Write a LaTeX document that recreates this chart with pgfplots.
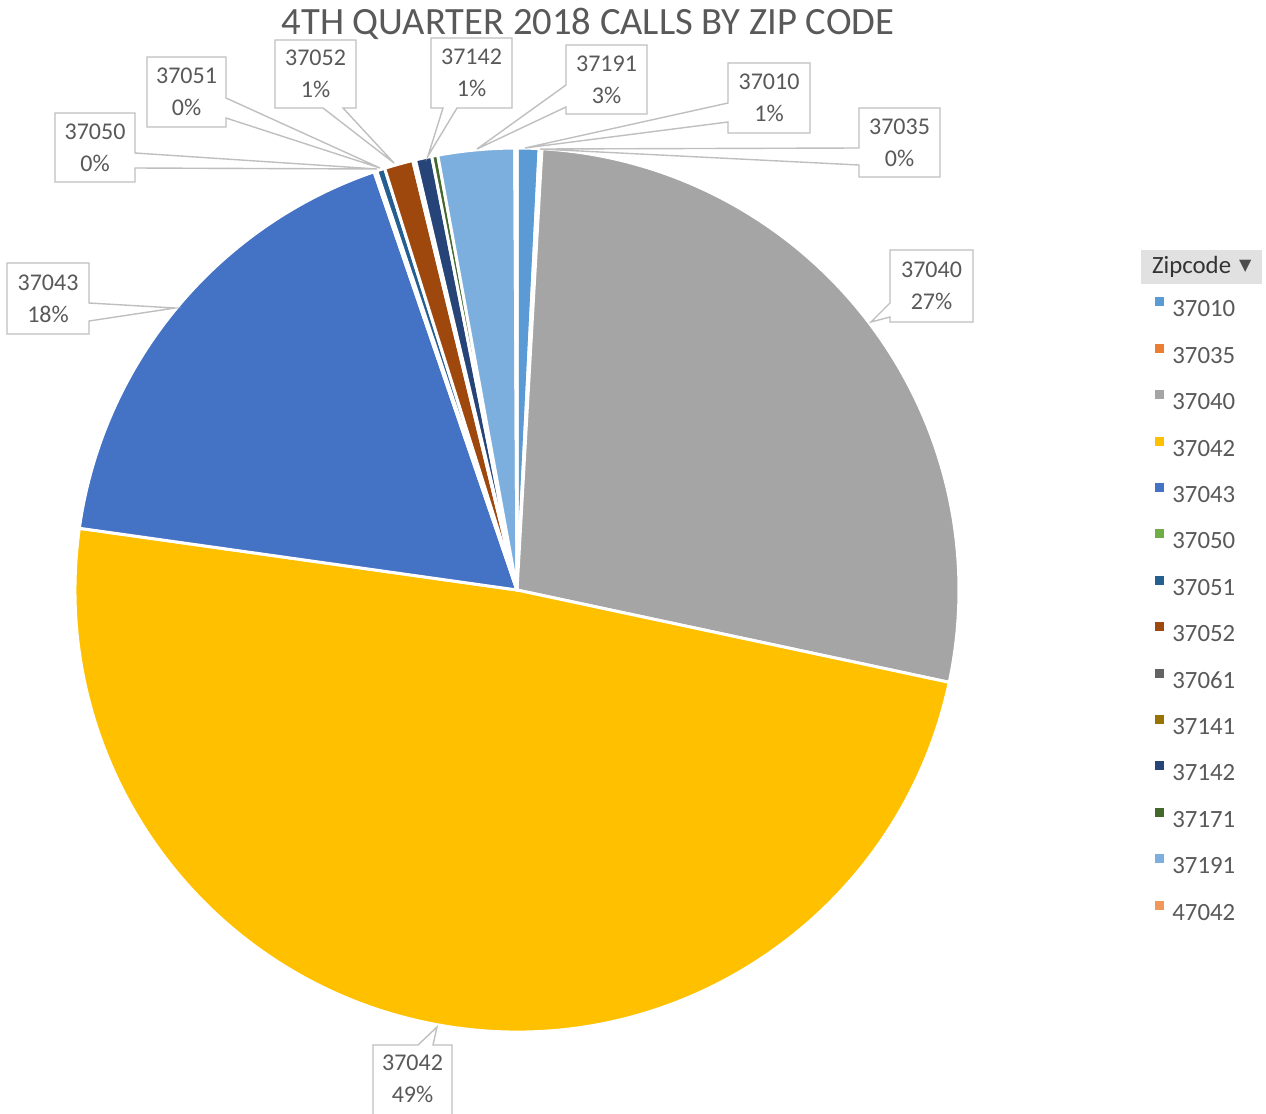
\documentclass[border=0pt]{standalone}
\usepackage{fontspec}
\setmainfont{Carlito}
\newfontfamily\dejavu{DejaVu Sans}
\usepackage{pgfplots}
\usepackage{pgfplotstable}
\pgfplotsset{compat=1.18}

% Office palette, one colour per zip code
\definecolor{z37010}{HTML}{5B9BD5}
\definecolor{z37035}{HTML}{ED7D31}
\definecolor{z37040}{HTML}{A5A5A5}
\definecolor{z37042}{HTML}{FFC000}
\definecolor{z37043}{HTML}{4472C4}
\definecolor{z37050}{HTML}{70AD47}
\definecolor{z37051}{HTML}{255E91}
\definecolor{z37052}{HTML}{9E480E}
\definecolor{z37061}{HTML}{636363}
\definecolor{z37141}{HTML}{997300}
\definecolor{z37142}{HTML}{264478}
\definecolor{z37171}{HTML}{43682B}
\definecolor{z37191}{HTML}{7CAFDD}
\definecolor{z47042}{HTML}{F1975A}
\definecolor{txt}{HTML}{595959}
\definecolor{line}{HTML}{BFBFBF}
\definecolor{hdr}{HTML}{E1E1E1}

% share of calls (percent)
\pgfplotstableread{
zip   value
37010 0.80
37035 0.10
37040 27.45
37042 48.88
37043 17.53
37050 0.10
37051 0.30
37052 1.05
37061 0.05
37141 0.05
37142 0.60
37171 0.22
37191 2.79
47042 0.08
}\calls

\newcommand\lbl[3]{\node[txt, align=center, font=\fontsize{12}{16}\selectfont] at ({#1},{#2}) {#3};}
% callout boxes: x1 y1 x2 y2 (pixels, y down), wedge base w1 w2, tip tx ty
\newcommand\calloutR[9]{\fill[white] (#1,#2) rectangle (#3,#4);
  \draw[line, line width=0.7pt] (#1,#2) -- (#3,#2) -- (#3,#5) -- (#7,#8) -- (#3,#6) -- (#3,#4) -- (#1,#4) -- cycle;
  \lbl{(#1+#3)/2}{(#2+#4)/2}{#9}}
\newcommand\calloutL[9]{\fill[white] (#1,#2) rectangle (#3,#4);
  \draw[line, line width=0.7pt] (#1,#2) -- (#3,#2) -- (#3,#4) -- (#1,#4) -- (#1,#6) -- (#7,#8) -- (#1,#5) -- cycle;
  \lbl{(#1+#3)/2}{(#2+#4)/2}{#9}}
\newcommand\calloutB[9]{\fill[white] (#1,#2) rectangle (#3,#4);
  \draw[line, line width=0.7pt] (#1,#2) -- (#3,#2) -- (#3,#4) -- (#6,#4) -- (#7,#8) -- (#5,#4) -- (#1,#4) -- cycle;
  \lbl{(#1+#3)/2}{(#2+#4)/2}{#9}}
\newcommand\calloutT[9]{\fill[white] (#1,#2) rectangle (#3,#4);
  \draw[line, line width=0.7pt] (#1,#2) -- (#5,#2) -- (#7,#8) -- (#6,#2) -- (#3,#2) -- (#3,#4) -- (#1,#4) -- cycle;
  \lbl{(#1+#3)/2}{#2+34}{#9}}

\begin{document}
\begin{tikzpicture}
\begin{axis}[
    x=0.5pt, y=0.5pt,
    xmin=0, xmax=1266, ymin=0, ymax=1114,
    y dir=reverse,
    hide axis, clip=false,
    legend cell align=left,
    legend image code/.code={\fill[#1, draw=none] (0pt,1.2pt) rectangle (4.5pt,5.7pt);},
    legend style={at={(axis cs:1155,297)}, anchor=north west, draw=none, fill=none,
        inner sep=0pt, row sep=13.5pt, column sep=4pt,
        nodes={inner sep=0pt, text height=8pt, text depth=0pt, text=txt},
        font=\fontsize{12.4}{14}\selectfont},
]
\def\cx{517}\def\cy{590}\def\r{442}
\def\cum{0}
\pgfplotstablegetrowsof{\calls}
\pgfmathtruncatemacro\last{\pgfplotsretval-1}
\pgfplotsforeachungrouped \i in {0,...,\last}{%
  \pgfplotstablegetelem{\i}{zip}\of\calls \let\zip\pgfplotsretval
  \pgfplotstablegetelem{\i}{value}\of\calls \let\val\pgfplotsretval
  \pgfmathsetmacro\a{3.6*\cum}%
  \pgfmathsetmacro\b{3.6*(\cum+\val)}%
  \pgfmathsetmacro\xa{\cx+\r*sin(\a)}%
  \pgfmathsetmacro\ya{\cy-\r*cos(\a)}%
  \pgfmathsetmacro\sa{90-\a}%
  \pgfmathsetmacro\ea{90-\b}%
  \edef\next{\noexpand\addplot[draw=white, line width=1.5pt, line join=round, fill=z\zip]
    coordinates {(\cx,\cy) (\xa,\ya)} arc[start angle=\sa, end angle=\ea, radius=221pt] -- cycle;
    \noexpand\addlegendentry{\zip}}%
  \next
  \pgfmathsetmacro\cum{\cum+\val}%
}

% title
\node[txt, font=\fontsize{19.3}{22}\selectfont] at (588,24) {4TH QUARTER 2018 CALLS BY ZIP CODE};

% data callouts
\calloutR{55}{113}{135}{182}{153}{168}{377}{169}{37050\\0\%}
\calloutR{147}{57}{226}{127}{98}{118}{380}{168}{37051\\0\%}
\calloutB{275}{40}{356}{108}{323}{343}{394}{163}{37052\\1\%}
\calloutB{431}{38}{512}{108}{443}{457}{428}{156}{37142\\1\%}
\calloutL{566}{45}{647}{114}{85}{107}{477}{149}{37191\\3\%}
\calloutL{728}{63}{810}{133}{103}{122}{525}{148}{37010\\1\%}
\calloutL{859}{108}{940}{177}{148}{165}{540}{149}{37035\\0\%}
\calloutL{890}{250}{973}{322}{303}{317}{871}{322}{37040\\27\%}
\calloutR{7}{263}{89}{334}{303}{321}{175}{308}{37043\\18\%}
\calloutT{373}{1045}{452}{1120}{418}{433}{437}{1027}{37042\\49\%}

% legend header
\fill[hdr] (1141,250) rectangle (1262,284);
\node[anchor=west, text=black!80, font=\fontsize{12.4}{14}\selectfont] at (1145,267) {Zipcode};
\node[anchor=west, text=black!70, font=\dejavu\fontsize{8}{10}\selectfont] at (1232,266) {▼};

\coordinate (tl) at (0,0);
\coordinate (br) at (1266,1114);
\end{axis}
\pgfresetboundingbox
\useasboundingbox (tl) rectangle (br);
\end{tikzpicture}
\end{document}
